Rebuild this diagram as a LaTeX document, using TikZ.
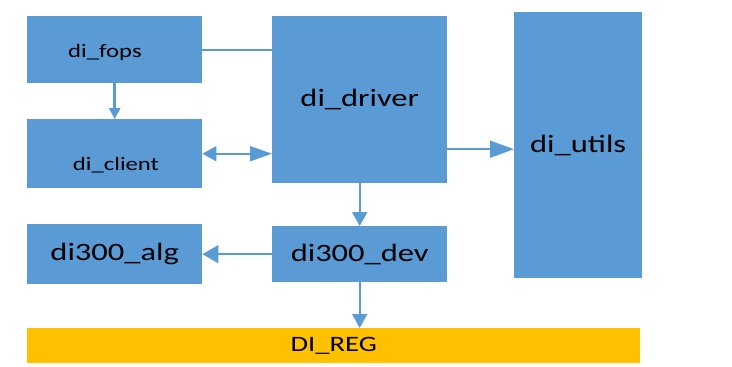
\documentclass[tikz,border=0pt]{standalone}
\usepackage{fontspec}
\setmainfont{Carlito}[FakeStretch=1.3]
\usepackage{tikz}
\usetikzlibrary{arrows.meta}
\definecolor{boxblue}{HTML}{5B9BD5}
\definecolor{regyellow}{HTML}{FFC000}
\tikzstyle{block}=[
        fill=boxblue,
        inner sep=0pt,
        anchor=north west
]
\tikzstyle{link}=[
        draw=boxblue,
        line width=2pt,
        -{Triangle[length=14pt,width=15pt]}
]

\begin{document}
\begin{tikzpicture}[x=1pt,y=-1pt]
                        \useasboundingbox (0,0) rectangle (732,367);

                        \node[block, minimum width=175pt, minimum height=67pt] (fops) at (27,16) {};
                        \node[font=\fontsize{19}{19}\selectfont] (fopstext) at (105,52) {di\_fops};
                        \node[block, minimum width=175pt, minimum height=69pt] (client) at (27,119) {};
                        \node[font=\fontsize{19}{19}\selectfont] (clienttext) at (116,165) {di\_client};
                        \node[block, minimum width=175pt, minimum height=167pt, font=\fontsize{25}{25}\selectfont] (driver) at (272,16) {di\_driver};
                        \node[block, minimum width=128pt, minimum height=266pt, font=\fontsize{25}{25}\selectfont] (utils) at (514,12) {di\_utils};
                        \node[block, minimum width=175pt, minimum height=60pt, font=\fontsize{25}{25}\selectfont] (alg) at (27,224) {di300\_alg};
                        \node[block, minimum width=175pt, minimum height=56pt, font=\fontsize{25}{25}\selectfont] (dev) at (272,226) {di300\_dev};
                        \node[block, fill=regyellow, minimum width=613pt, minimum height=35pt, font=\fontsize{22}{22}\selectfont] (reg) at (27,328) {DI\_REG};

                        \draw[draw=boxblue, line width=2pt] (fops.east) -- (fops.east -| driver.west);
                        \draw[link, line width=3pt, -{Triangle[length=11pt,width=11pt]}] (fops.south) -- (client.north);
                        \draw[link, {Triangle[length=14pt,width=15pt]}-{Triangle[length=22pt,width=15pt]}] (client.east) -- (client.east -| driver.west);
                        \draw[link, -{Triangle[length=24pt,width=17pt]}] ([yshift=-4pt]utils.west -| driver.east) -- ([yshift=-4pt]utils.west);
                        \draw[link] (driver.south) -- (dev.north);
                        \draw[link, -{Triangle[length=16pt,width=18pt]}] (dev.west) -- (alg.east);
                        \draw[link] (dev.south) -- (dev.south |- reg.north);
                    \end{tikzpicture}
\end{document}
